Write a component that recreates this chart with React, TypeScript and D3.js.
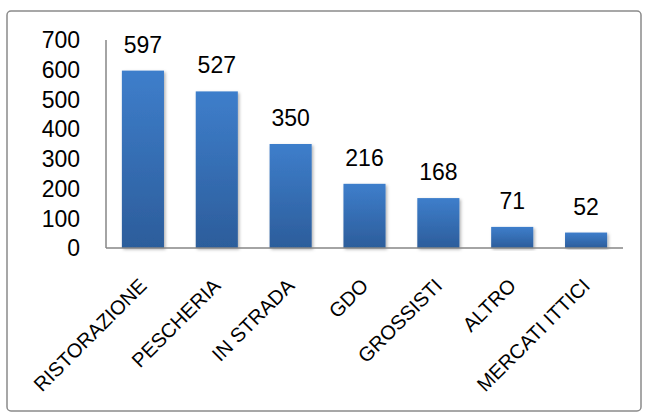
import React from "react";
import * as d3 from "d3";

const categories = ["RISTORAZIONE", "PESCHERIA", "IN STRADA", "GDO", "GROSSISTI", "ALTRO", "MERCATI ITTICI"];
const values = [597, 527, 350, 216, 168, 71, 52];
const yTicks = [0, 100, 200, 300, 400, 500, 600, 700];

const W = 648;
const H = 417;
const axisLeft = 106;
const axisRight = 623;
const axisTop = 40;
const axisBottom = 248;
const font = "'Liberation Sans', Arial, sans-serif";

export default function App() {
  const x = d3.scaleBand<string>().domain(categories).range([axisLeft, axisRight]).paddingInner(0.43).paddingOuter(0.215);
  const y = d3.scaleLinear().domain([0, 700]).range([axisBottom, axisTop]);
  return (
    <svg width={W} height={H} style={{ position: "absolute", left: 0, top: 0, background: "#fff" }}>
      <defs>
        <linearGradient id="barGrad" x1="0" y1="0" x2="0" y2="1">
          <stop offset="0" stopColor="#3e7ecb" />
          <stop offset="1" stopColor="#2c5d9b" />
        </linearGradient>
        <filter id="sh" x="-20%" y="-5%" width="140%" height="115%">
          <feDropShadow dx="1.5" dy="1.5" stdDeviation="1.5" floodColor="#000" floodOpacity="0.3" />
        </filter>
      </defs>
      <rect x={7} y={11} width={634} height={400} rx={4} fill="#fff" stroke="#8a8a8a" strokeWidth={1.5} />
      {categories.map((c, i) => (
        <rect key={c} x={x(c)} y={y(values[i])} width={x.bandwidth()} height={axisBottom - y(values[i])} fill="url(#barGrad)" filter="url(#sh)" />
      ))}
      <line x1={axisLeft} x2={axisLeft} y1={axisTop} y2={axisBottom} stroke="#868686" strokeWidth={1.5} />
      <line x1={axisLeft} x2={axisRight} y1={axisBottom} y2={axisBottom} stroke="#868686" strokeWidth={1.5} />
      {yTicks.map((t) => (
        <text key={t} x={80} y={y(t)} dy="0.36em" textAnchor="end" fontFamily={font} fontSize={23} fill="#000">
          {t}
        </text>
      ))}
      {categories.map((c, i) => (
        <text key={"v" + c} x={(x(c) as number) + x.bandwidth() / 2} y={y(values[i]) - 18} textAnchor="middle" fontFamily={font} fontSize={23} fill="#000">
          {values[i]}
        </text>
      ))}
      {categories.map((c) => {
        const cx = (x(c) as number) + x.bandwidth() / 2 + 5;
        const ty = 287;
        return (
          <text key={"c" + c} x={cx} y={ty} transform={`rotate(-45 ${cx} ${ty})`} textAnchor="end" fontFamily={font} fontSize={20} fill="#000">
            {c}
          </text>
        );
      })}
    </svg>
  );
}
